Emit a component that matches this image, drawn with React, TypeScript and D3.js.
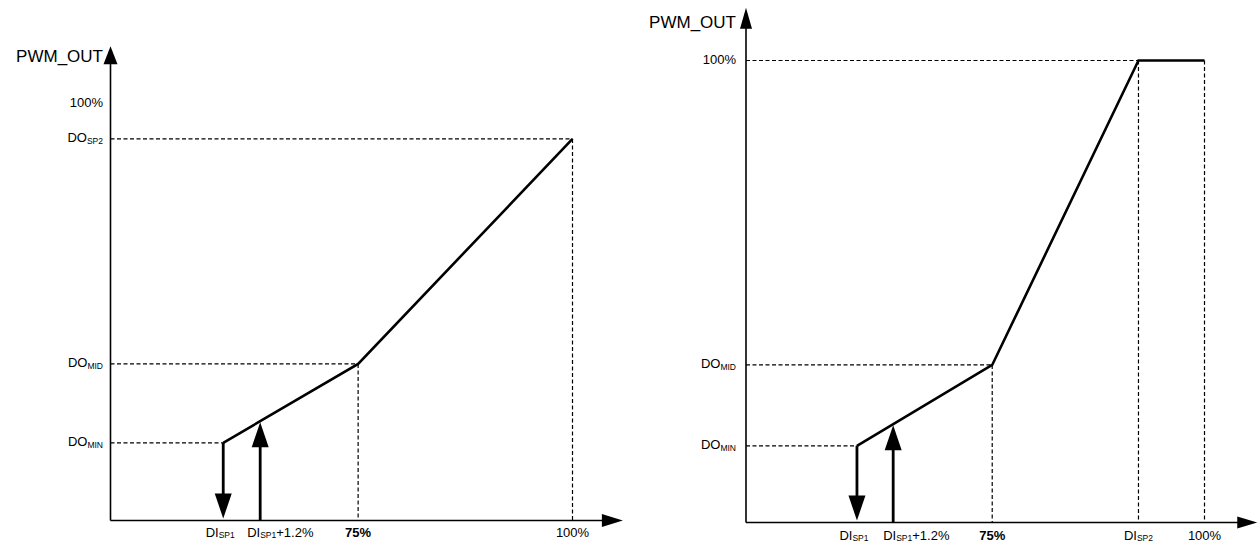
import React from "react";
import * as d3 from "d3";

// ---------- Data (schematic positions, 0..100 % of axis) ----------
// Left chart
const leftCurveX = [24.4, 53.6, 100];
const leftCurveY = [18.6, 37.5, 91.4];
const leftUpArrowX = 32.4; // DI_SP1 + 1.2%
const leftYLabels = [
  { main: "DO", sub: "MIN", value: 18.6 },
  { main: "DO", sub: "MID", value: 37.5 },
  { main: "DO", sub: "SP2", value: 91.4 },
  { main: "100%", sub: "", value: 100 },
];
const leftXLabels = [
  { main: "DI", sub: "SP1", tail: "", value: 24.4, bold: false },
  { main: "DI", sub: "SP1", tail: "+1.2%", value: 32.4, bold: false },
  { main: "75%", sub: "", tail: "", value: 53.6, bold: true },
  { main: "100%", sub: "", tail: "", value: 100, bold: false },
];

// Right chart
const rightCurveX = [24.2, 53.7, 85.6, 100];
const rightCurveY = [16.6, 34.1, 100, 100];
const rightUpArrowX = 32.1;
const rightYLabels = [
  { main: "DO", sub: "MIN", value: 16.6 },
  { main: "DO", sub: "MID", value: 34.1 },
  { main: "100%", sub: "", value: 100 },
];
const rightXLabels = [
  { main: "DI", sub: "SP1", tail: "", value: 24.2, bold: false },
  { main: "DI", sub: "SP1", tail: "+1.2%", value: 32.1, bold: false },
  { main: "75%", sub: "", tail: "", value: 53.7, bold: true },
  { main: "DI", sub: "SP2", tail: "", value: 85.6, bold: false },
  { main: "100%", sub: "", tail: "", value: 100, bold: false },
];

const yAxisTitle = "PWM_OUT";

type YL = { main: string; sub: string; value: number };
type XL = { main: string; sub: string; tail: string; value: number; bold: boolean };

interface ChartProps {
  x0: number; x100: number; y0: number; y100: number;
  curveX: number[]; curveY: number[];
  upX: number;
  yLabels: YL[]; xLabels: XL[];
  dashedH: number[];
  dashedV: number[];
  yLabelGap: number;
  xTipValue: number; yTipValue: number;
  yHead: { w: number; h: number };
  xHead: { w: number; h: number };
  titleX: number; titleY: number;
  xLabelDy: number;
  tailLabelShift: number;
}

const FONT = "'Liberation Sans', Arial, Helvetica, sans-serif";

function Chart(p: ChartProps) {
  const x = d3.scaleLinear().domain([0, 100]).range([p.x0, p.x100]);
  const y = d3.scaleLinear().domain([0, 100]).range([p.y0, p.y100]);
  const pts: [number, number][] = p.curveX.map((v, i) => [v, p.curveY[i]]);
  const line = d3.line<[number, number]>().x((d) => x(d[0])).y((d) => y(d[1]));
  const interp = d3.scaleLinear().domain(p.curveX).range(p.curveY);
  const upY = interp(p.upX);

  const xTip = x(p.xTipValue);
  const yTip = y(p.yTipValue);
  const ox = x(0), oy = y(0);

  const arrowW = 17, arrowL = 26;
  const downX = x(pts[0][0]);
  const downTop = y(pts[0][1]);
  const upXp = x(p.upX);
  const upYp = y(upY);

  return (
    <g>
      {p.dashedH.map((i) => (
        <line key={"h" + i} x1={ox} x2={x(pts[i][0])} y1={y(pts[i][1])} y2={y(pts[i][1])}
          stroke="#000" strokeWidth={1.2} strokeDasharray="4,2.5" />
      ))}
      {p.dashedV.map((i) => (
        <line key={"v" + i} x1={x(pts[i][0])} x2={x(pts[i][0])} y1={y(pts[i][1])} y2={oy}
          stroke="#000" strokeWidth={1.2} strokeDasharray="4,2.5" />
      ))}
      <line x1={ox} x2={ox} y1={oy} y2={yTip + p.yHead.h - 1} stroke="#000" strokeWidth={1.6} />
      <path d={`M${ox},${yTip} L${ox - p.yHead.w / 2},${yTip + p.yHead.h} L${ox + p.yHead.w / 2},${yTip + p.yHead.h} Z`} fill="#000" />
      <line x1={ox} x2={xTip - p.xHead.h + 1} y1={oy} y2={oy} stroke="#000" strokeWidth={1.6} />
      <path d={`M${xTip},${oy} L${xTip - p.xHead.h},${oy - p.xHead.w / 2} L${xTip - p.xHead.h},${oy + p.xHead.w / 2} Z`} fill="#000" />
      <path d={line(pts) || ""} fill="none" stroke="#000" strokeWidth={2.6} strokeLinejoin="miter" />
      <line x1={downX} x2={downX} y1={downTop} y2={oy - arrowL} stroke="#000" strokeWidth={2.8} />
      <path d={`M${downX},${oy - 2} L${downX - arrowW / 2},${oy - arrowL - 1} L${downX + arrowW / 2},${oy - arrowL - 1} Z`} fill="#000" />
      <line x1={upXp} x2={upXp} y1={oy} y2={upYp + arrowL - 1} stroke="#000" strokeWidth={2.8} />
      <path d={`M${upXp},${upYp + 1} L${upXp - arrowW / 2},${upYp + arrowL} L${upXp + arrowW / 2},${upYp + arrowL} Z`} fill="#000" />
      <text x={p.titleX} y={p.titleY} textAnchor="end" fontFamily={FONT} fontSize={17} fill="#000">{yAxisTitle}</text>
      {p.yLabels.map((l, i) => (
        <text key={"yl" + i} x={ox - p.yLabelGap} y={y(l.value) + 3.5} textAnchor="end" fontFamily={FONT} fontSize={13} fill="#000">
          {l.main}
          {l.sub && <tspan fontSize={8.5} dy={1.5}>{l.sub}</tspan>}
        </text>
      ))}
      {p.xLabels.map((l, i) => {
        const hasTail = !!l.tail;
        const isSP1 = l.sub === "SP1" && !hasTail;
        const lx = hasTail ? x(l.value) - p.tailLabelShift : x(l.value) - (isSP1 ? 3 : 0);
        return (
          <text key={"xl" + i} x={lx} y={oy + p.xLabelDy} textAnchor={hasTail ? "start" : "middle"} fontFamily={FONT} fontSize={13}
            fontWeight={l.bold ? "bold" : "normal"} fill="#000">
            {l.main}
            {l.sub && <tspan fontSize={8.5} dy={1}>{l.sub}</tspan>}
            {l.tail && <tspan dy={-1}>{l.tail}</tspan>}
          </text>
        );
      })}
    </g>
  );
}

export default function App() {
  return (
    <svg width={1259} height={543} style={{ position: "absolute", left: 0, top: 0, background: "#fff" }}>
      <rect width={1259} height={543} fill="#fff" />
      <Chart
        x0={110.5} x100={572.5} y0={520.5} y100={103}
        curveX={leftCurveX} curveY={leftCurveY} upX={leftUpArrowX}
        yLabels={leftYLabels} xLabels={leftXLabels}
        dashedH={[0, 1, 2]} dashedV={[1, 2]}
        yLabelGap={7.5} xTipValue={110.9} yTipValue={113.6}
        yHead={{ w: 14, h: 18 }} xHead={{ w: 13, h: 21 }}
        titleX={103} titleY={62} xLabelDy={16.5} tailLabelShift={13}
      />
      <Chart
        x0={746} x100={1204.5} y0={522.5} y100={60.5}
        curveX={rightCurveX} curveY={rightCurveY} upX={rightUpArrowX}
        yLabels={rightYLabels} xLabels={rightXLabels}
        dashedH={[0, 1, 2]} dashedV={[1, 2, 3]}
        yLabelGap={10} xTipValue={111.5} yTipValue={111.4}
        yHead={{ w: 12, h: 21 }} xHead={{ w: 12, h: 20 }}
        titleX={736} titleY={28} xLabelDy={17} tailLabelShift={10}
      />
    </svg>
  );
}
